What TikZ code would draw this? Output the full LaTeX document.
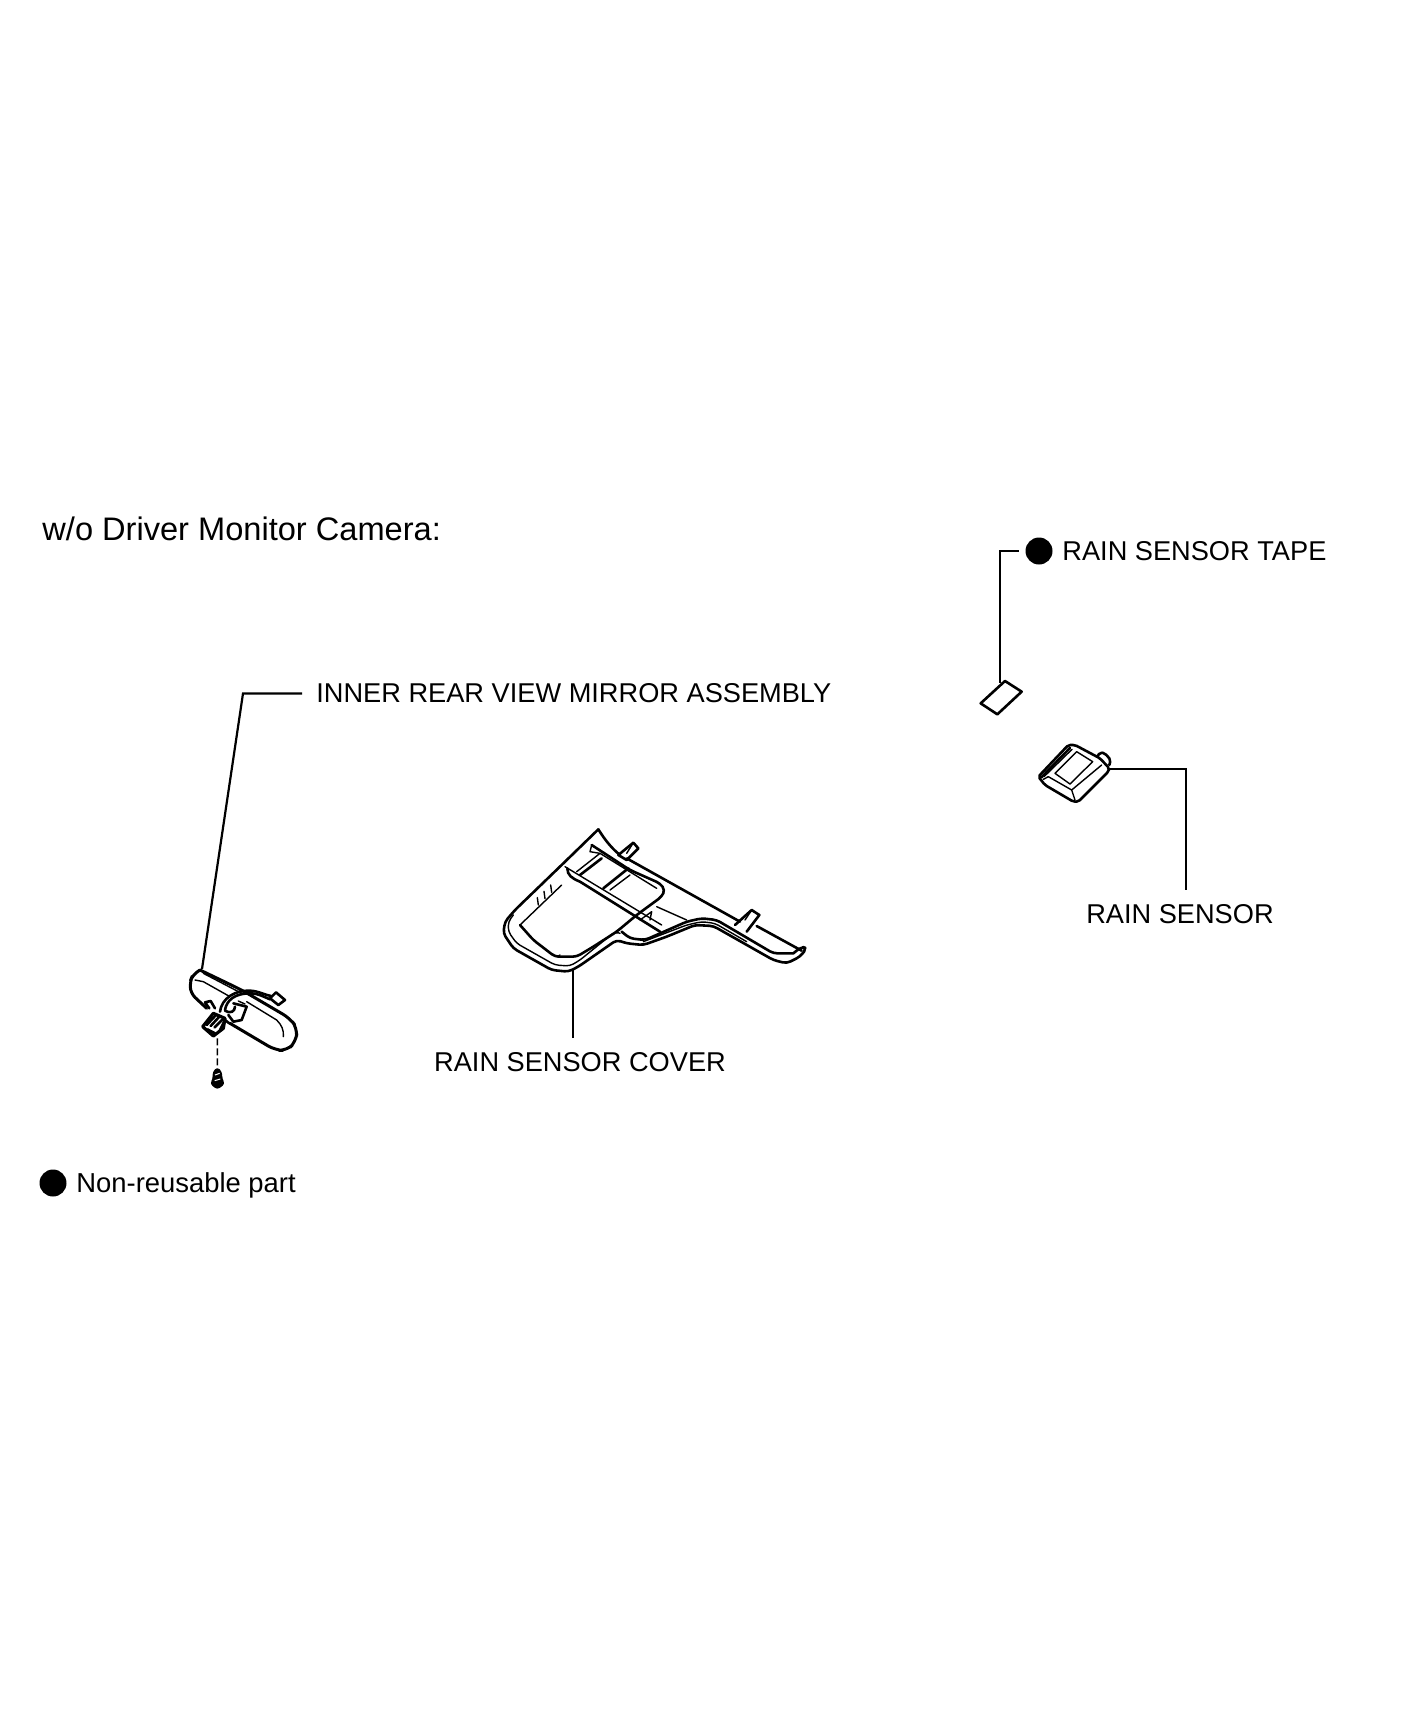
\documentclass[tikz,border=0pt]{standalone}
\usepackage{fontspec}
\setmainfont{Liberation Sans}
\tikzset{
    partlabel/.style={inner sep=7pt, font=\fontsize{13.6}{16}\selectfont},
    titlelabel/.style={inner sep=0pt, anchor=west, font=\fontsize{16.3}{18}\selectfont},
    leader/.style={black, line width=1.1pt},
    partline/.style={black, line width=1.3pt, line join=round, line cap=round},
    thinline/.style={black, line width=0.7pt, line join=round, line cap=round},
    dotmark/.style={circle, fill=black, inner sep=0pt, minimum size=13.5pt},
}

\begin{document}
\begin{tikzpicture}[x=0.5pt, y=-0.5pt]

\useasboundingbox (0,0) rectangle (1408,1734);
\fill[white] (0,0) rectangle (1408,1734);

% Labels
\node[titlelabel] (title) at (42,528.5) {w/o Driver Monitor Camera:};
\node[partlabel, anchor=west] (mirrorLabel) at (302,693.5) {INNER REAR VIEW MIRROR ASSEMBLY};
\node[partlabel, anchor=north] (coverLabel) at (580,1038) {RAIN SENSOR COVER};
\node[partlabel, anchor=north] (sensorLabel) at (1180,890) {RAIN SENSOR};
\node[partlabel, anchor=west] (tapeLabel) at (1048,551.5) {RAIN SENSOR TAPE};
\node[dotmark, outer sep=3.5pt] (tapeDot) at (1039,551) {};
\node[dotmark] (legendDot) at (53,1183) {};
\node[partlabel, anchor=west, inner sep=0pt, font=\fontsize{13.7}{16}\selectfont] (legendLabel) at (76,1185) {Non-reusable part};

% Leader ends on the parts
\coordinate (mirrorEnd) at (202,969);
\coordinate (coverEnd) at (572.7,970);
\coordinate (sensorEnd) at (1108,769);
\coordinate (tapeEnd) at (1000,683);
\coordinate (mirrorBend) at (243,693.5);
\coordinate (sensorBend) at (1186,769);
\coordinate (tapeBend) at (1000,551);

% Leaders
\draw[leader] (mirrorLabel.west) -- (mirrorBend) -- (mirrorEnd);
\draw[leader] (coverLabel.north -| coverEnd) -- (coverEnd);
\draw[leader] (sensorEnd) -- (sensorBend) -- (sensorBend |- sensorLabel.north);
\draw[leader] (tapeDot.west) -- (tapeBend) -- (tapeEnd);

% Tape
\begin{scope}[shift={(950,520)}, scale=1/3]
    \draw[partline] (165,483) -- (215,515) -- (142,583) -- (92,550) -- cycle;
\end{scope}

% Rain sensor
\begin{scope}[shift={(1020,720)}, scale=1/3]
    \draw[partline, rounded corners=1pt] (55,170) -- (145,75) -- (165,75) -- (240,115) -- (268,145) -- (265,155)
        -- (175,245) -- (160,245) -- (75,195) -- cycle;
    \draw[partline] (64,172) -- (150,84);
    \draw[thinline] (72,170) -- (156,88);
    \draw[thinline] (105,160) -- (170,95) -- (218,125) -- (150,192) -- cycle;
    \draw[thinline] (85,170) -- (155,210) -- (245,135);
    \draw[thinline] (155,210) -- (165,240);
    \draw[thinline] (70,178) -- (85,170);
    \draw[partline, rounded corners=1pt] (232,110) -- (240,97) -- (255,100) -- (272,120) -- (268,135);
\end{scope}

% Rain sensor cover
\begin{scope}[shift={(480,800)}, scale=1/3]
    % Outer edge
    \draw[partline, rounded corners=2pt] (355,88) -- (250,190) -- (105,330) -- (75,365) -- (70,400) -- (100,445)
        -- (215,510) -- (265,515) -- (295,500) -- (410,420) -- (440,430) -- (490,435) -- (560,410) -- (645,375)
        -- (700,378) -- (880,480) -- (920,490) -- (960,470) -- (980,445) -- (965,440) -- (940,460);
    \draw[partline] (355,88) .. controls (375,120) and (395,145) .. (420,165);
    \draw[partline] (440,175) -- (780,365);
    \draw[partline] (830,378) -- (965,452);
    % Pegs
    \draw[partline] (415,165) -- (460,128) -- (475,145) -- (440,180) -- cycle;
    \draw[partline] (765,375) -- (815,330) -- (838,345) -- (800,395);
    \draw[thinline] (460,128) -- (440,160);
    \draw[thinline] (815,330) -- (795,360);
    % Rim
    \draw[thinline, rounded corners=2pt] (100,345) -- (85,365) -- (85,395) -- (110,430) -- (225,495) -- (270,498)
        -- (300,480) -- (405,395) -- (420,400);
    \draw[partline, rounded corners=2pt] (425,395) -- (450,415) -- (495,420) -- (620,365) -- (665,355) -- (710,360)
        -- (880,460) -- (940,460);
    \draw[thinline, rounded corners=2pt] (490,425) -- (620,375) -- (665,365) -- (705,370) -- (800,425);
    % Tray
    \draw[partline, rounded corners=2pt] (120,375) -- (160,420) -- (225,470) -- (290,470) -- (340,440) -- (410,395)
        -- (470,345) -- (545,290) -- (555,270) -- (540,250) -- (450,210) -- (335,135);
    \draw[thinline] (120,375) -- (245,255);
    \foreach \t in {175,195,215} {
        \draw[thinline] (\t,{315-(\t-175)*0.95}) -- ++(-3,-22);
    }
    \draw[thinline] (255,200) -- (545,375);
    \draw[partline] (262,205) .. controls (262,225) and (275,235) .. (300,245) -- (540,395);
    \draw[thinline] (290,215) -- (360,160) -- (530,265);
    \draw[partline] (300,225) -- (365,175);
    \draw[partline] (370,265) -- (445,205);
    \draw[thinline] (390,270) -- (450,225);
    \draw[thinline] (335,135) -- (330,155) -- (360,160);
    \draw[thinline] (530,320) -- (620,360);
    \draw[thinline] (480,360) -- (515,335) -- (510,360);
    \draw[thinline] (232,470) -- (240,465);
\end{scope}

% Mirror
\begin{scope}[shift={(170,940)}, scale=1/3]
    \draw[partline, line width=1.5pt, rounded corners=3pt] (90,90) -- (68,105) -- (60,125) -- (62,160) -- (110,205);
    \draw[partline, line width=1.5pt, rounded corners=4pt] (180,250) -- (315,330) -- (350,332) -- (378,305) -- (382,265) -- (360,235)
        -- (215,150) -- (90,90);
    \draw[thinline] (100,100) -- (215,160);
    \draw[thinline] (75,120) -- (100,125) -- (180,170);
    \draw[thinline] (230,185) -- (320,240) .. controls (335,255) and (342,270) .. (340,290);
    % Clip
    \draw[partline] (135,205) -- (122,183) -- (105,187) -- (118,205);
    % Bracket
    \draw[partline] (190,190) -- (230,200) -- (215,240) -- (190,245) -- (175,225);
    \draw[thinline] (205,183) -- (225,192);
    % Wire
    \draw[partline] (150,215) .. controls (155,175) and (195,150) .. (240,152) .. controls (265,153) and (285,165) .. (303,168);
    \draw[partline] (165,210) .. controls (170,180) and (195,160) .. (240,160) .. controls (265,160) and (285,172) .. (300,178);
    \draw[partline] (165,212) .. controls (180,222) and (195,215) .. (195,200);
    % Plug
    \draw[partline] (300,175) -- (318,157) -- (345,180) -- (325,195) -- cycle;
    % Connector
    \draw[partline, line width=1.6pt, fill=white] (98,260) -- (130,220) -- (165,235) -- (160,265) -- (130,288) -- cycle;
    \draw[partline] (110,255) -- (138,225);
    \draw[partline] (122,258) -- (148,230);
    \draw[partline] (134,262) -- (158,238);
    \draw[partline] (112,268) -- (135,280);
    \draw[partline] (150,270) -- (165,240) -- (178,250);
    % Screw
    \coordinate (screwTop) at (142,385);
    \draw[thinline, dash pattern=on 3.5pt off 1.5pt, line cap=butt] (142,295) -- (screwTop);
    \fill[black, rounded corners=1.5pt] (142,381) -- (128,395) -- (128,416) -- (120,432) -- (142,449) -- (165,432) -- (157,416) -- (156,395) -- cycle;
    \draw[white, line width=0.5pt] (135,405) -- (149,400);
    \draw[white, line width=0.5pt] (134,422) -- (151,417);
\end{scope}

\end{tikzpicture}
\end{document}
